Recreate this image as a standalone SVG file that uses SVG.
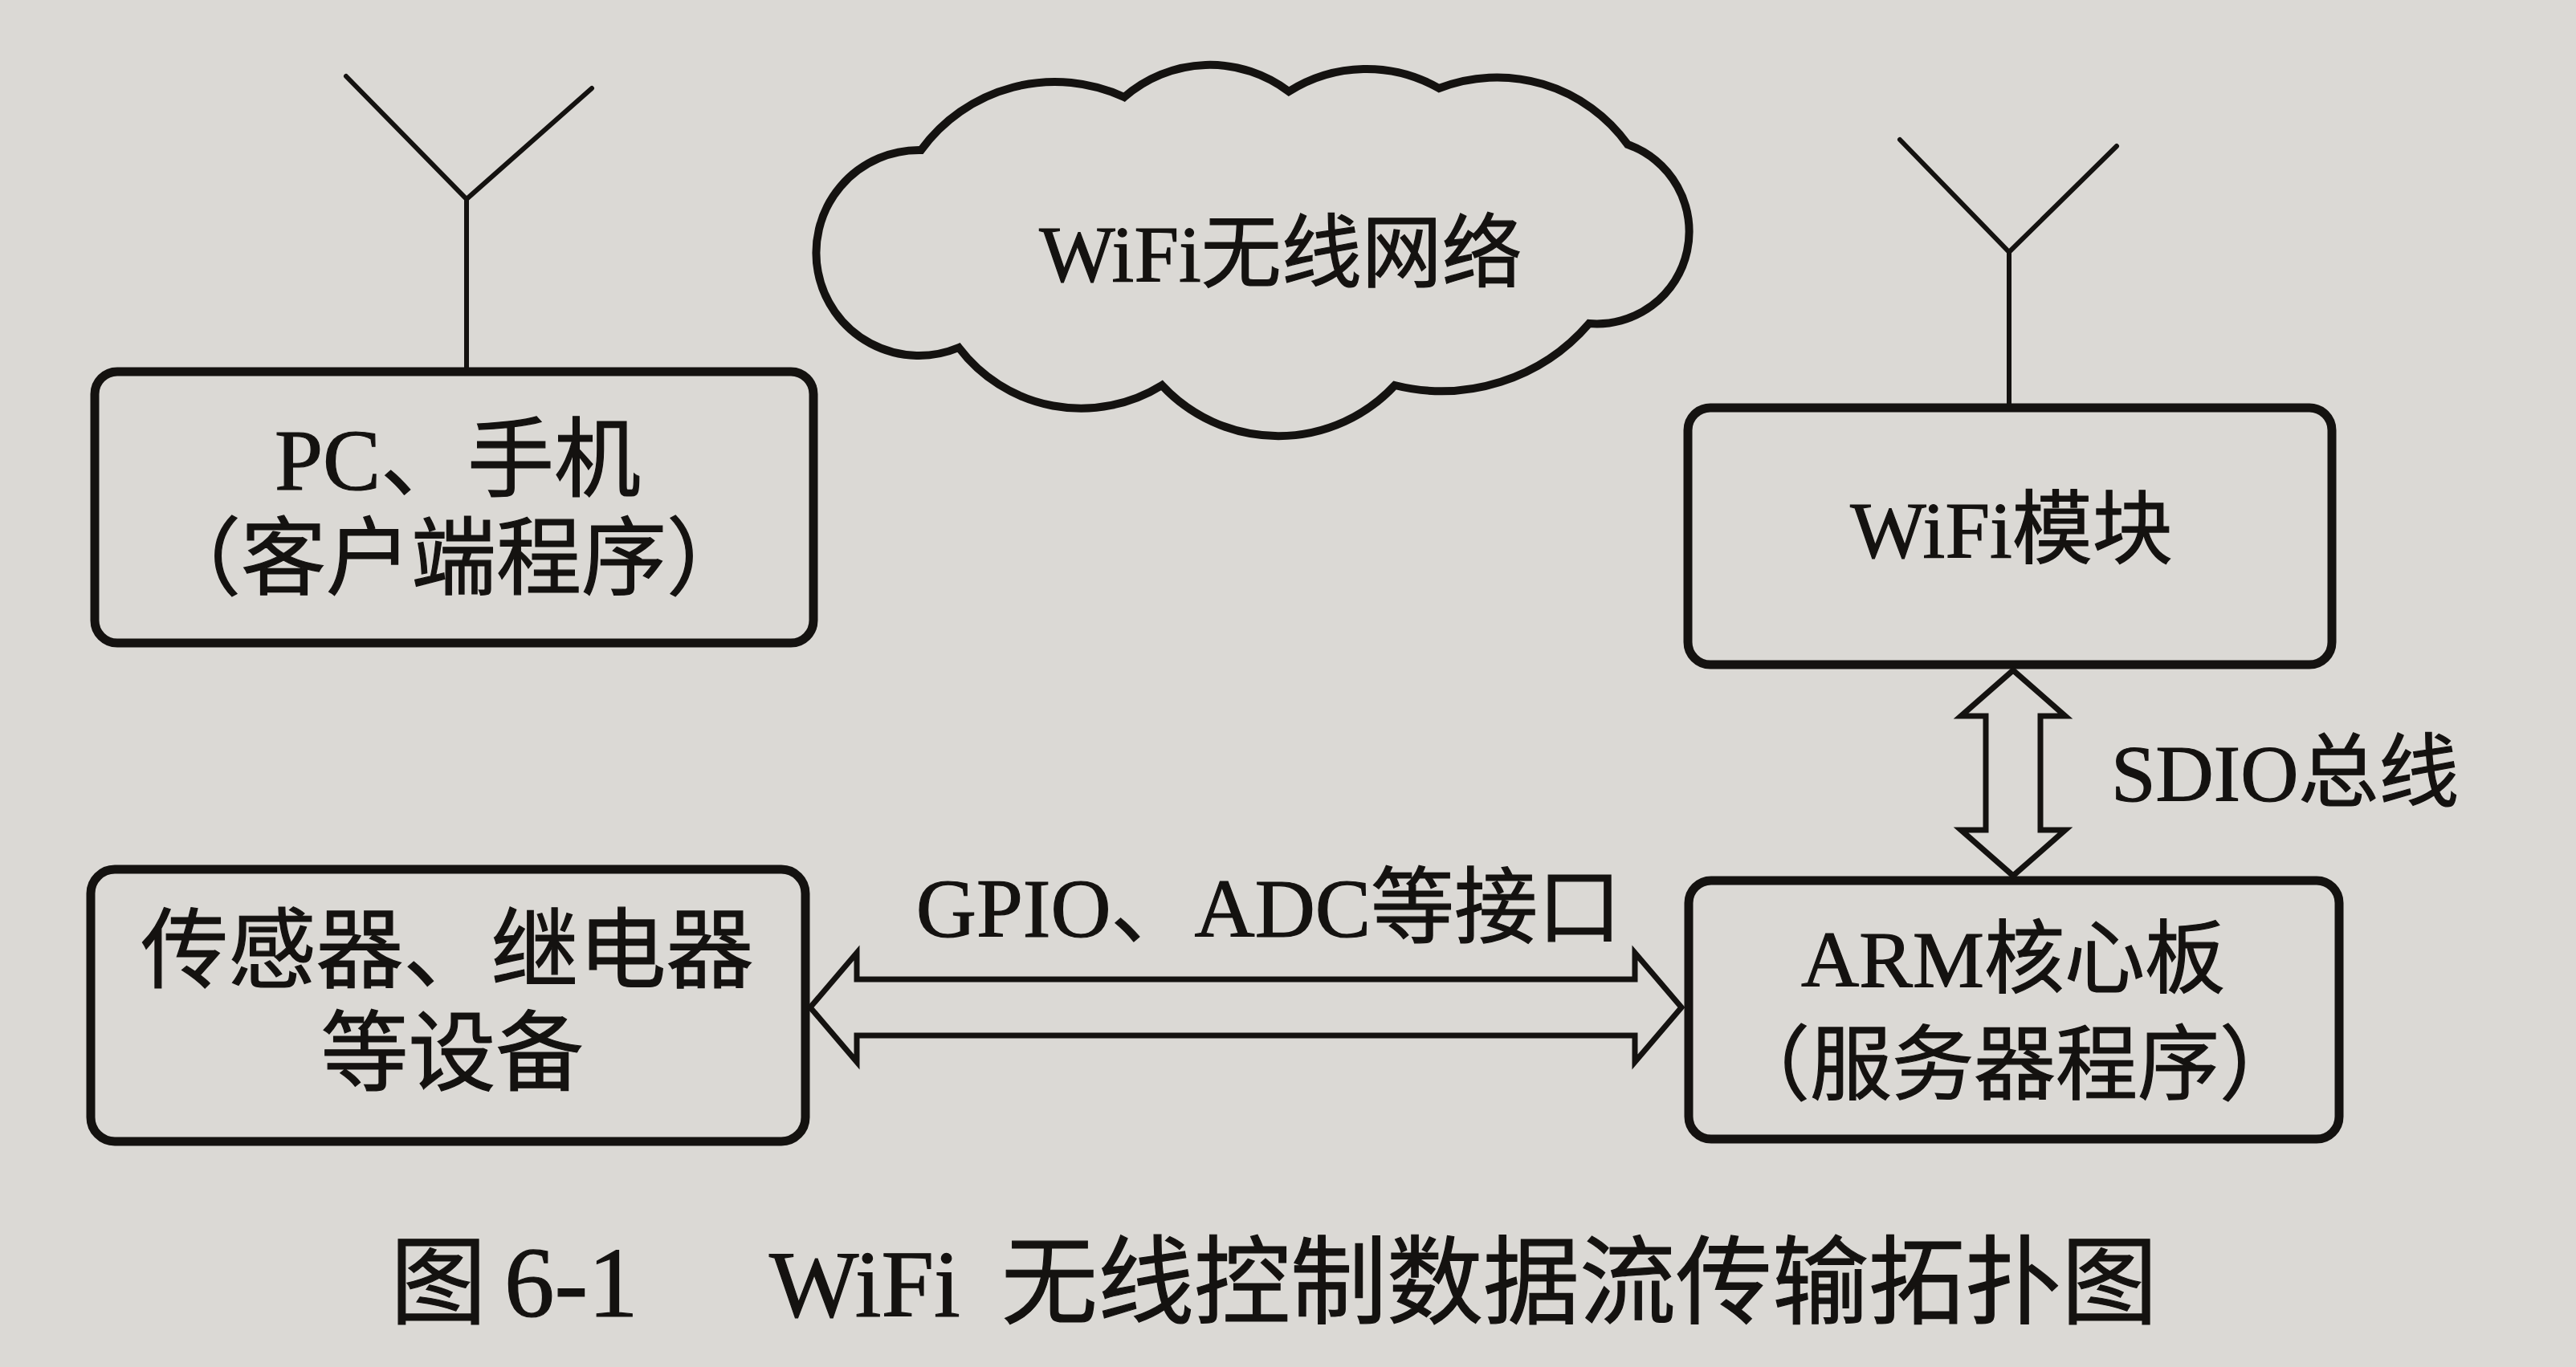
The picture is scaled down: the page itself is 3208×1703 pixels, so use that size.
<svg xmlns="http://www.w3.org/2000/svg" width="3208" height="1703" viewBox="0 0 3208 1703">
  <style>
    .bg { fill: #dbd9d5; }
    .box { fill: none; stroke: #141210; stroke-width: 11; }
    .ant { fill: none; stroke: #141210; stroke-width: 6; stroke-linecap: round; stroke-linejoin: miter; }
    .cloud { fill: none; stroke: #141210; stroke-width: 10; stroke-linejoin: miter; }
    .arrow { fill: none; stroke: #141210; stroke-width: 7; stroke-linejoin: miter; }
    .t { font-family: 'Liberation Serif', 'Noto Sans CJK SC', serif; fill: #141210; stroke: #141210; stroke-width: 1.2; font-size: 100px; }
    .mid { text-anchor: middle; }
    .cap { font-size: 120px; }
  </style>
  <rect class="bg" x="0" y="0" width="3208" height="1703"/>

  <g id="cloud">
    <path class="cloud" d="M1147,187 A206,206 0 0 1 1400,121 A162,162 0 0 1 1605,114 A181,181 0 0 1 1792,110 A200,200 0 0 1 2027,180 A115,115 0 0 1 1979,403 A242,242 0 0 1 1737,480 A198,198 0 0 1 1447,480 A191,191 0 0 1 1194,433 A128,128 0 1 1 1147,187 Z"/>
    <text class="t mid" x="1595" y="350">WiFi无线网络</text>
  </g>

  <g id="pc">
    <polyline class="ant" points="431,95 581,248 737,110"/>
    <line class="ant" x1="581" y1="248" x2="581" y2="463"/>
    <rect class="box" x="118" y="463" width="895" height="338" rx="28" ry="28"/>
    <text class="t mid" x="570" y="610" style="font-size:108px">PC、手机</text>
    <text class="t mid" x="565" y="732" style="font-size:106px">（客户端程序）</text>
  </g>

  <g id="wifi">
    <polyline class="ant" points="2366,174 2502,314 2636,182"/>
    <line class="ant" x1="2502" y1="314" x2="2502" y2="508"/>
    <rect class="box" x="2102" y="508" width="802" height="320" rx="28" ry="28"/>
    <text class="t mid" x="2505" y="694">WiFi模块</text>
  </g>

  <g id="arm">
    <rect class="box" x="2103" y="1097" width="810" height="322" rx="28" ry="28"/>
    <text class="t mid" x="2507" y="1229">ARM核心板</text>
    <text class="t mid" x="2509" y="1362" style="font-size:102px">（服务器程序）</text>
  </g>

  <g id="sensor">
    <rect class="box" x="113" y="1083" width="890" height="339" rx="30" ry="30"/>
    <text class="t mid" x="557" y="1222" style="font-size:109px">传感器、继电器</text>
    <text class="t mid" x="563" y="1350" style="font-size:109px">等设备</text>
  </g>

  <g id="connectors">
    <polygon class="arrow" points="1009,1255 1067,1187 1067,1220 2036,1220 2036,1187 2094,1255 2036,1323 2036,1290 1067,1290 1067,1323"/>
    <text class="t mid" x="1580" y="1167" style="font-size:104px">GPIO、ADC等接口</text>
    <polygon class="arrow" points="2507,835 2572,892 2541,892 2541,1034 2572,1034 2507,1091 2442,1034 2473,1034 2473,892 2442,892"/>
    <text class="t" x="2629" y="997">SDIO总线</text>
  </g>

  <g id="caption">
    <text class="t cap" y="1640"><tspan x="486">图</tspan><tspan x="628" style="font-size:125px">6-1</tspan><tspan x="958" style="font-size:118px">WiFi</tspan><tspan x="1247">无线控制数据流传输拓扑图</tspan></text>
  </g>
</svg>
